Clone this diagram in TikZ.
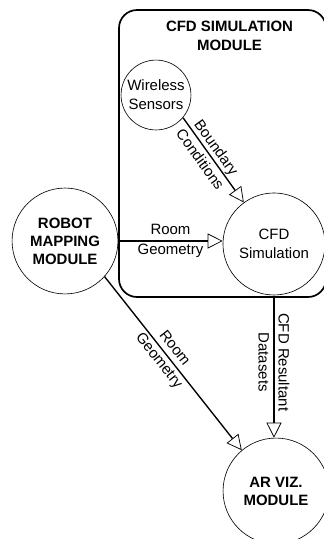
\documentclass[tikz,border=0pt]{standalone}
\usepackage{fontspec}
\setmainfont{Liberation Sans}
\usetikzlibrary{arrows.meta,positioning,calc}
\definecolor{ink}{HTML}{000000}
\tikzset{unit/.style={circle,draw=ink,line width=.6pt,align=center,inner sep=1pt,font=\fontsize{14.2}{18}\selectfont},module/.style={unit,font=\bfseries\fontsize{14.2}{17}\selectfont},arr/.style={-{Triangle[length=5mm,width=5mm,fill=white,line width=.7pt]},draw=ink,line width=1.3pt},lbl/.style={sloped,align=center,inner sep=0pt,font=\fontsize{14.2}{19}\selectfont}}

\begin{document}
\begin{tikzpicture}[x=1cm,y=1cm]
\useasboundingbox (0,0) rectangle (10.8,-17.967);

\node[draw=ink,line width=1.6pt,rounded corners=6mm,minimum width=6.9cm,minimum height=9.567cm] (simbox) at (7.417,-5.117) {};
\node[font=\bfseries\fontsize{14.2}{18}\selectfont,align=center] (simtitle) at (7.65,-1.18) {CFD SIMULATION\\MODULE};
\node[unit,minimum size=2.33cm] (sensors) at (5.2,-3.167) {Wireless\\Sensors};
\node[unit,minimum size=3.4cm] (cfd) at (9.133,-8.133) {CFD\\Simulation};
\node[module,minimum size=3.53cm] (robot) at (2.167,-8.033) {ROBOT\\MAPPING\\MODULE};
\node[module,minimum size=3.53cm] (arviz) at (9.2,-16.367) {AR VIZ.\\MODULE};
\draw[arr] (sensors.-40)--(cfd.126) node[lbl,pos=.42] {Boundary\\Conditions};
\draw[arr] (robot.east)--(robot.east -| cfd.west) node[lbl,midway] {Room\\Geometry};
\draw[arr] (robot.-42)--(arviz.130) node[lbl,pos=.45] {Room\\Geometry};
\draw[arr] (simbox.south -| cfd.south)--(arviz.north -| cfd.south) node[lbl,pos=.46] {CFD Resultant\\Datasets};
\end{tikzpicture}
\end{document}
